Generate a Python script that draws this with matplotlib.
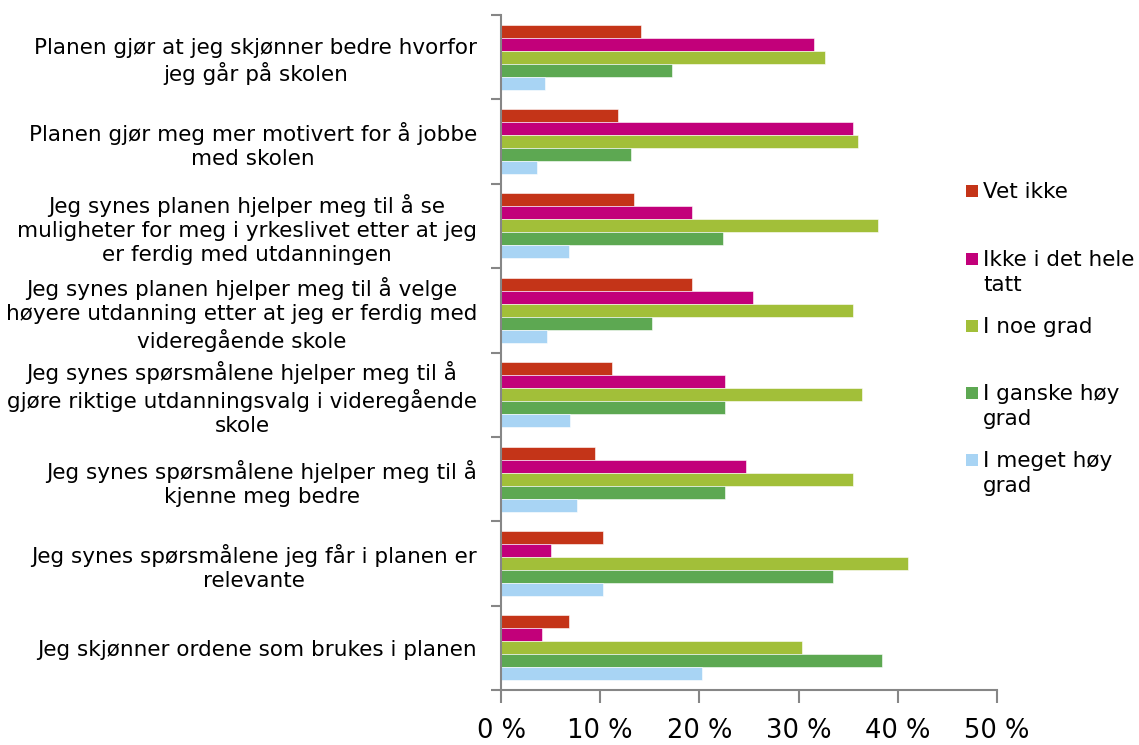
import matplotlib
matplotlib.use("Agg")
import matplotlib.pyplot as plt
from matplotlib.patches import Rectangle
import numpy as np

categories = [
    "Planen gjør at jeg skjønner bedre hvorfor\njeg går på skolen",
    "Planen gjør meg mer motivert for å jobbe\nmed skolen",
    "Jeg synes planen hjelper meg til å se\nmuligheter for meg i yrkeslivet etter at jeg\ner ferdig med utdanningen",
    "Jeg synes planen hjelper meg til å velge\nhøyere utdanning etter at jeg er ferdig med\nvideregående skole",
    "Jeg synes spørsmålene hjelper meg til å\ngjøre riktige utdanningsvalg i videregående\nskole",
    "Jeg synes spørsmålene hjelper meg til å\nkjenne meg bedre",
    "Jeg synes spørsmålene jeg får i planen er\nrelevante",
    "Jeg skjønner ordene som brukes i planen",
]

series_names = ["Vet ikke", "Ikke i det hele\ntatt", "I noe grad", "I ganske høy\ngrad", "I meget høy\ngrad"]
vet_ikke        = [14.1, 11.8, 13.4, 19.3, 11.2, 9.5, 10.3, 6.9]
ikke_i_det_hele = [31.6, 35.5, 19.3, 25.4, 22.6, 24.7, 5.0, 4.1]
i_noe_grad      = [32.7, 36.0, 38.0, 35.5, 36.4, 35.5, 41.0, 30.3]
i_ganske_hoy    = [17.2, 13.1, 22.4, 15.2, 22.6, 22.6, 33.5, 38.4]
i_meget_hoy     = [4.4, 3.6, 6.9, 4.6, 7.0, 7.7, 10.3, 20.3]
series = [vet_ikke, ikke_i_det_hele, i_noe_grad, i_ganske_hoy, i_meget_hoy]
colors = ["#C43418", "#C2007A", "#A2BF39", "#5DA852", "#A8D4F4"]
xticks = [0, 10, 20, 30, 40, 50]
xticklabels = ["0 %", "10 %", "20 %", "30 %", "40 %", "50 %"]

W, H = 1139, 745
fig = plt.figure(figsize=(W / 100, H / 100), dpi=100)
ax = fig.add_axes([501 / W, 1 - 690 / H, 496 / W, 675 / H])

n = len(categories)
y = np.arange(n)
h = 0.154
for k, (vals, col, name) in enumerate(zip(series, colors, series_names)):
    ax.barh(y + (k - 2) * h, vals, height=h, color=col, label=name,
            edgecolor="white", linewidth=0.4)

ax.set_xlim(0, 50)
ax.set_ylim(n - 0.5, -0.5)
ax.set_xticks(xticks)
ax.set_xticklabels(xticklabels, fontsize=18.5)
ax.set_yticks(y)
ax.set_yticklabels(categories, fontsize=15.5, multialignment="center", linespacing=1.25)
ax.set_yticks(np.arange(-0.5, n, 1.0), minor=True)
ax.tick_params(axis="y", which="major", length=0, pad=17.3)
ax.tick_params(axis="y", which="minor", length=7, width=1.5, color="#868686", direction="out")
ax.tick_params(axis="x", which="major", length=9, width=1.5, color="#868686", direction="out", pad=11.5)

for s in ["top", "right"]:
    ax.spines[s].set_visible(False)
for s in ["left", "bottom"]:
    ax.spines[s].set_color("#868686")
    ax.spines[s].set_linewidth(1.5)

# Legend (Excel-style: square aligned with first line of label)
leg_baselines = [198, 266, 333, 400, 467]
for name, col, yb in zip(series_names, colors, leg_baselines):
    fig.add_artist(Rectangle((966 / W, 1 - (yb - 1) / H), 12 / W, 12 / H,
                             transform=fig.transFigure, facecolor=col, edgecolor="none"))
    first, *rest = name.split("\n")
    fig.text(983 / W, 1 - yb / H, first, fontsize=15.5, va="baseline", ha="left")
    for j, line in enumerate(rest, start=1):
        fig.text(983 / W, 1 - (yb + 25 * j) / H, line, fontsize=15.5, va="baseline", ha="left")

fig.savefig("out.png", dpi=100)
